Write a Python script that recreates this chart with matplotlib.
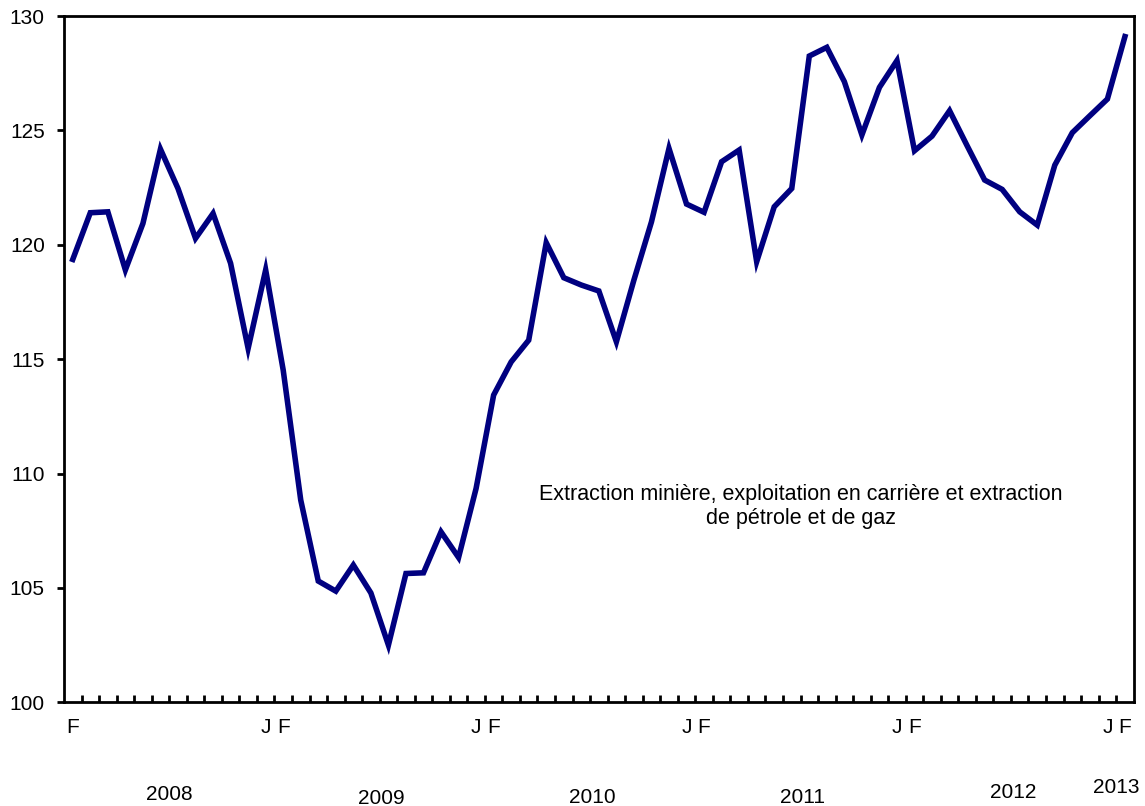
import matplotlib
matplotlib.use("Agg")
import matplotlib.pyplot as plt
from matplotlib.ticker import FixedLocator, NullFormatter
import matplotlib.transforms as mtransforms

plt.rcParams['font.family'] = ['Liberation Sans', 'DejaVu Sans']

# Monthly index, Feb 2008 .. Feb 2013
values = [
    119.36, 121.40, 121.44, 118.90, 120.93, 124.18, 122.46, 120.28, 121.37, 119.19, 115.47,  # 2008 Feb-Dec
    118.90, 114.52, 108.84, 105.30, 104.86, 106.00, 104.78, 102.50, 105.63, 105.66, 107.45, 106.33,  # 2009
    109.35, 113.43, 114.88, 115.83, 120.09, 118.56, 118.24, 117.98, 115.76, 118.46, 121.00, 124.21,  # 2010
    121.78, 121.42, 123.63, 124.14, 119.26, 121.66, 122.46, 128.25, 128.63, 127.13, 124.80, 126.88,  # 2011
    128.05, 124.11, 124.75, 125.86, 124.33, 122.83, 122.42, 121.44, 120.86, 123.48, 124.90, 125.64,  # 2012
    126.37, 129.10,  # 2013 Jan-Feb
]
month_labels_pos = [0, 11, 12, 23, 24, 35, 36, 47, 48, 59, 60]
month_labels = ['F', 'J', 'F', 'J', 'F', 'J', 'F', 'J', 'F', 'J', 'F']
years = ['2008', '2009', '2010', '2011', '2012', '2013']
year_pos = [5.5, 17.6, 29.6, 41.6, 53.6, 59.5]
year_y = [-0.135, -0.140, -0.138, -0.138, -0.131, -0.124]
annotation = "Extraction minière, exploitation en carrière et extraction\nde pétrole et de gaz"

fig = plt.figure(figsize=(11.45, 8.06), dpi=100)
ax = fig.add_axes([64/1145, 1-702.3/806, (1133.7-64)/1145, (702.3-16)/806])

x = list(range(len(values)))
ax.plot(x, values, color='#000080', linewidth=4.0, solid_joinstyle='miter')

ax.set_xlim(-0.5, len(values) - 0.5)
ax.set_ylim(100, 130)
ax.set_yticks([100, 105, 110, 115, 120, 125, 130])
ax.tick_params(axis='y', direction='out', length=5.3, width=2.0, pad=8.5, labelsize=15)

ax.xaxis.set_major_locator(FixedLocator(month_labels_pos))
ax.set_xticklabels(month_labels)
ax.tick_params(axis='x', which='major', length=0, pad=11, labelsize=15)
ax.xaxis.set_minor_locator(FixedLocator([i + 0.5 for i in range(len(values) - 1)]))
ax.xaxis.set_minor_formatter(NullFormatter())
ax.tick_params(axis='x', which='minor', direction='in', length=5, width=2.0)

for s in ax.spines.values():
    s.set_linewidth(2.0)

trans = mtransforms.blended_transform_factory(ax.transData, ax.transAxes)
for yr, xp, yp in zip(years, year_pos, year_y):
    ax.text(xp, yp, yr, transform=trans, ha='center', va='center', fontsize=15)

ax.text(41.5, 108.57, annotation, ha='center', va='center', fontsize=15.5, linespacing=1.2)

fig.savefig('out.png', dpi=100)
